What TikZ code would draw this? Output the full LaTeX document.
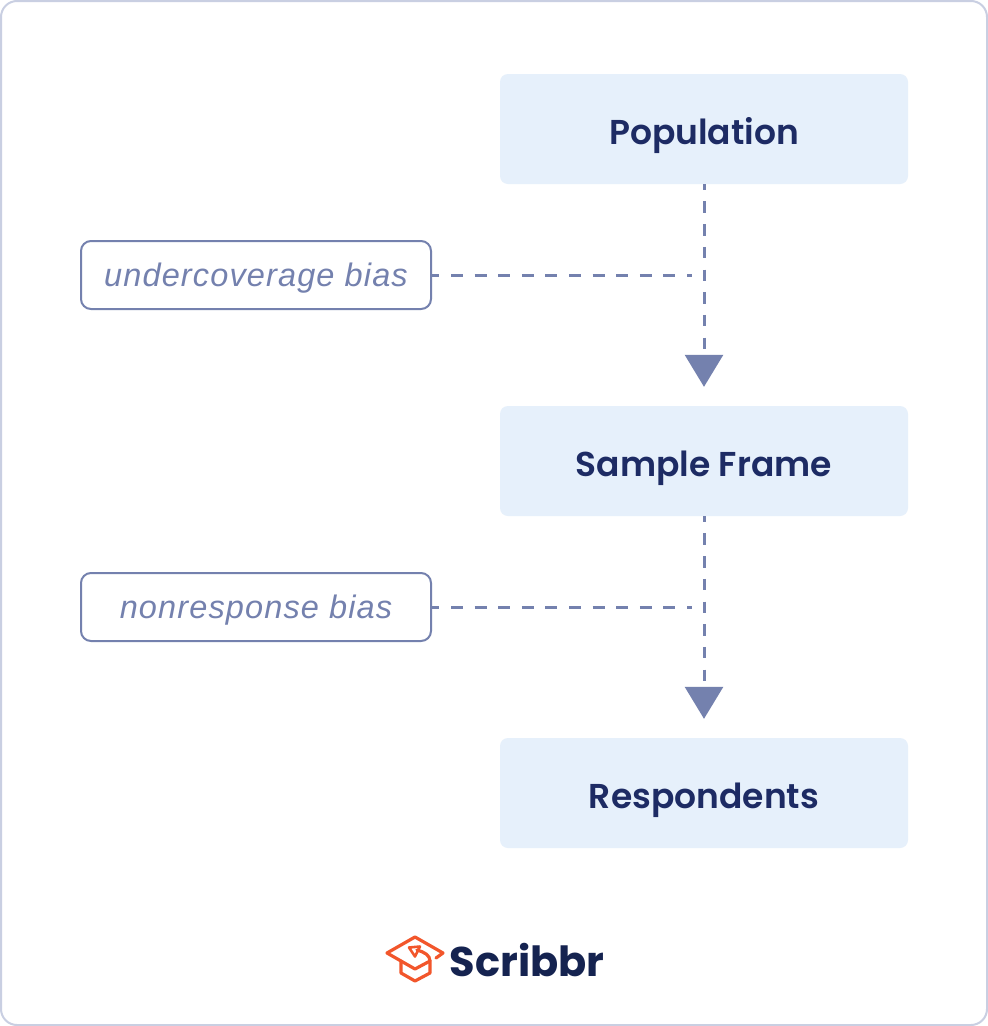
\documentclass[tikz,border=0pt]{standalone}
\usepackage{fontspec}
\setmainfont{Poppins}[BoldFont={Poppins SemiBold}]
\newfontfamily\italfont{Liberation Sans}[LetterSpace=3.5]
\newfontfamily\logofont{Poppins}
\usetikzlibrary{positioning,arrows.meta}

\definecolor{stepfill}{HTML}{E6F0FB}
\definecolor{navy}{HTML}{1D2B64}
\definecolor{slate}{HTML}{7481AE}
\definecolor{framegray}{HTML}{C9CFE2}
\definecolor{logored}{HTML}{F2562B}
\definecolor{logonavy}{HTML}{152350}

\begin{document}
\begin{tikzpicture}[
    x=1pt, y=-1pt,
    stage/.style={rectangle, draw=none, rounded corners=8pt, fill=stepfill,
        minimum width=408pt, minimum height=110pt, text=navy,
        text height=31.5pt, text depth=0pt,
        font=\fontsize{34.5}{34.5}\selectfont\bfseries},
    biasbox/.style={rectangle, draw=slate, line width=2pt, rounded corners=10pt, fill=white,
        minimum width=350pt, minimum height=68pt, text=slate,
        text height=22pt, text depth=0pt,
        font=\italfont\fontsize{32.5}{32.5}\selectfont\itshape},
    flow/.style={draw=slate, line width=3pt, dash pattern=on 11.5pt off 11.2pt, dash phase=5.5pt,
        -{Triangle[length=32pt,width=38pt]}, shorten >=19pt},
    leak/.style={draw=slate, line width=3pt, dash pattern=on 12pt off 11.6pt, dash phase=4.6pt},
    logoline/.style={draw=logored, line width=3.2pt, line join=round, line cap=round}
]
\useasboundingbox (0,0) rectangle (988,1026);
\draw [framegray, line width=2pt, rounded corners=16pt, fill=white] (1,1) rectangle (987,1025);

\node (population) [stage] at (704,129) {Population};
\node (frame) [stage, below=221.6pt of population] {Sample Frame};
\node (respondents) [stage, below=221.6pt of frame] {Respondents};

\node (undercoverage) [biasbox] at (256,275) {undercoverage bias};
\node (nonresponse) [biasbox] at (256,607) {nonresponse bias};

\coordinate (undermeet) at ([xshift=-12pt]population.south |- undercoverage.east);
\coordinate (nonmeet) at ([xshift=-12pt]frame.south |- nonresponse.east);

\draw [flow] (population) -- (frame);
\draw [flow] (frame) -- (respondents);
\draw [leak] (undercoverage) -- (undermeet);
\draw [leak] (nonresponse) -- (nonmeet);

% graduation cap
\draw [logoline] (436,958) -- (443,953) -- (415,937) -- (387,953) -- (415,969) -- (430,961);
\draw [logoline] (401,961) -- (401,973) -- (415,981) -- (430,973) -- (430,961) .. controls (430,955) and (424,952) .. (417,950);
\draw [logoline, line width=2.6pt] (409,947.5) -- (420,946.5) -- (415,956.5) -- cycle;
\node (wordmark) [anchor=west, inner sep=0pt, text=logonavy, font=\logofont\fontsize{41.5}{41.5}\selectfont\bfseries] at (449.5,960) {Scribbr};
\end{tikzpicture}
\end{document}
